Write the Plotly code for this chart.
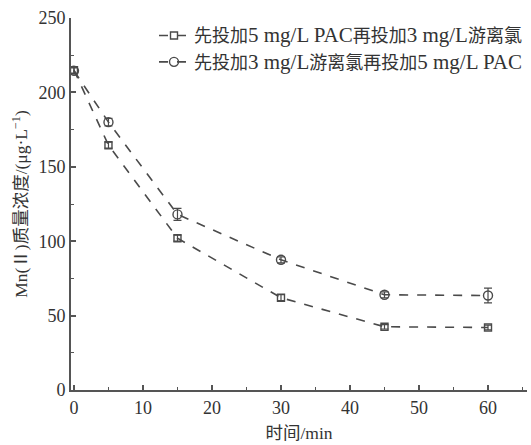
import plotly.graph_objects as go
import re

time_min = [0, 5, 15, 30, 45, 60]
pac_first = [215, 164.5, 102, 62, 42.5, 42]
pac_first_err = [2, 2, 2, 2, 1.5, 1.5]
cl_first = [214.5, 180, 118, 87.5, 64, 63.5]
cl_first_err = [2, 2.5, 4, 2, 2, 5]
names = ["先投加5 mg/L PAC再投加3 mg/L游离氯", "先投加3 mg/L游离氯再投加5 mg/L PAC"]

FONT = "Liberation Serif, Times New Roman, Noto Sans CJK SC, serif"
col = "#4a4a4a"


def styled(name):
    # Latin runs drawn a little larger, like the Times face in the reference
    return re.sub(r"([0-9A-Za-z/ ]+)", r'<span style="font-size:21px">\1</span>', name)


fig = go.Figure()
fig.add_trace(go.Scatter(
    x=time_min, y=pac_first, name=styled(names[0]), mode="lines+markers",
    line=dict(color=col, width=1.6, dash="dash"),
    marker=dict(symbol="square-open", size=7, color=col, line=dict(width=1.4)),
    error_y=dict(type="data", array=pac_first_err, color=col, thickness=1.2, width=4),
))
fig.add_trace(go.Scatter(
    x=time_min, y=cl_first, name=styled(names[1]), mode="lines+markers",
    line=dict(color=col, width=1.6, dash="dash"),
    marker=dict(symbol="circle-open", size=9, color=col, line=dict(width=1.4)),
    error_y=dict(type="data", array=cl_first_err, color=col, thickness=1.2, width=4),
))

fig.update_layout(
    width=531, height=445,
    margin=dict(l=71, r=4, t=18, b=55),
    paper_bgcolor="white", plot_bgcolor="white",
    font=dict(family=FONT, size=17, color="#333"),
    showlegend=True,
    legend=dict(x=1.0, xanchor="right", y=1.002, yanchor="top",
                font=dict(size=18, family=FONT, color="#333"),
                bgcolor="rgba(0,0,0,0)", tracegroupgap=0,
                itemsizing="trace"),
    xaxis=dict(
        range=[-0.43, 65.65], tickmode="array", tickvals=[0, 10, 20, 30, 40, 50, 60],
        showline=True, linecolor="#555", linewidth=2, automargin=False,
        ticks="inside", ticklen=5, tickwidth=1.5, tickcolor="#555",
        minor=dict(ticks="inside", dtick=5, tick0=0, ticklen=3, tickcolor="#555", tickwidth=1.2),
        showgrid=False, zeroline=False,
        title=dict(text="时间/min", font=dict(size=17.5), standoff=10),
        tickfont=dict(size=18),
    ),
    yaxis=dict(
        range=[0, 250], tickmode="array", tickvals=[0, 50, 100, 150, 200, 250],
        showline=True, linecolor="#555", linewidth=2, automargin=False,
        ticks="inside", ticklen=5, tickwidth=1.5, tickcolor="#555",
        minor=dict(ticks="inside", dtick=25, tick0=0, ticklen=3, tickcolor="#555", tickwidth=1.2),
        showgrid=False, zeroline=False,
        title=dict(text="Mn(Ⅱ)质量浓度/(μg·L<sup>−1</sup>)", font=dict(size=17.5), standoff=6),
        tickfont=dict(size=18),
    ),
)

fig.write_html("out.html", config={"displayModeBar": False},
               post_script="document.body.style.margin='0';")
